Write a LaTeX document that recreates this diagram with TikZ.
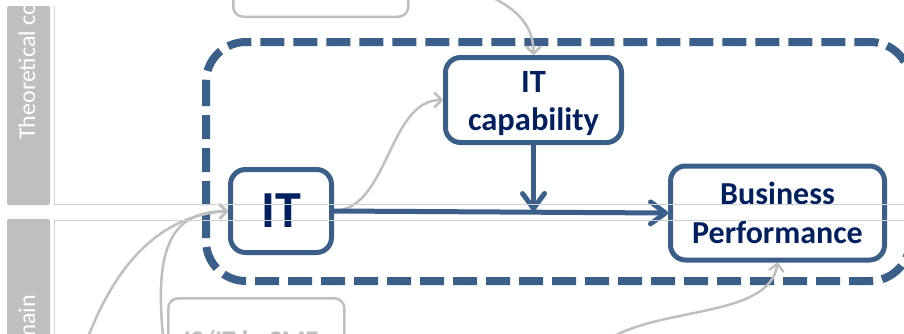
\documentclass[tikz,border=0pt]{standalone}
\usepackage{fontspec}
\setmainfont{Carlito}
\usetikzlibrary{arrows.meta}
\definecolor{boxblue}{RGB}{58,95,139}
\definecolor{navy}{RGB}{0,32,96}
\definecolor{softgray}{RGB}{191,191,191}
\definecolor{laneline}{RGB}{210,210,210}
\begin{document}
\begin{tikzpicture}[x=1pt,y=-1pt,
  blockbox/.style={draw=boxblue, line width=5pt, rounded corners=15pt, inner sep=0pt},
  blocktext/.style={text=navy, align=center, inner sep=0pt},
  flow/.style={draw=boxblue, line width=5pt, line cap=round,
    -{Straight Barb[length=15pt,width=22pt,round]}},
  hint/.style={draw=softgray, line width=2.5pt,
    -{Straight Barb[length=7pt,width=14pt,round]}},
  ghostbox/.style={draw=softgray, line width=2.5pt, rounded corners=10pt},
  scopeframe/.style={draw=boxblue, line width=8pt, rounded corners=40pt, dash pattern=on 24pt off 9pt},
  laneband/.style={fill=softgray, rounded corners=2pt},
  lanetext/.style={text=white, font=\fontsize{24}{28}\selectfont, rotate=90, inner sep=0pt},
  lanerule/.style={draw=laneline, line width=1pt},
]
\useasboundingbox (0,0) rectangle (904,333);
\clip (0,0) rectangle (904,333);

% swim-lane header bands
\fill[laneband] (7,6) rectangle (50,205);
\fill[laneband] (7,219) rectangle (50,360);
\begin{scope}
  \clip (7,6) rectangle (50,205);
  \node[lanetext, anchor=base west] (laneA) at (35,140) {Theoretical co};
\end{scope}
\begin{scope}
  \clip (7,219) rectangle (50,360);
  \node[lanetext, anchor=base east] (laneB) at (35,295) {main};
\end{scope}

% surrounding dashed frame
\draw[scopeframe] (206,42) rectangle (910,281);

% faded context boxes
\node[ghostbox, minimum width=175pt, minimum height=60pt, anchor=south west] (prior) at (232,18) {};
\node[ghostbox, minimum width=176pt, minimum height=80pt, anchor=north west] (sme) at (167,297) {};
\node[text=softgray, font=\bfseries\fontsize{27}{30}\selectfont, anchor=base, inner sep=0pt] (smelabel) at (251,349) {IS/IT in SME};

% main constructs
\node[blockbox, minimum width=101pt, minimum height=83pt] (it) at (281,211) {};
\node[blockbox, minimum width=176pt, minimum height=85pt] (cap) at (533.5,100) {};
\node[blockbox, minimum width=214pt, minimum height=94pt] (bp) at (777.5,213) {};
\node[blocktext, font=\bfseries\fontsize{52}{52}\selectfont] (ittext) at (it.center) {IT};
\node[blocktext, font=\bfseries\fontsize{32.5}{38}\selectfont] (captext) at ([yshift=-4pt]cap.center) {IT\\capability};
\node[blocktext, font=\bfseries\fontsize{32}{39}\selectfont] (bptext) at (bp.center) {Business\\Performance};

% loose ends of the faded links
\coordinate (srcTop) at (470,-12);
\coordinate (srcA) at (85,345);
\coordinate (srcB) at (164,345);
\coordinate (srcC) at (600,345);

% faded links
\draw[hint] (srcTop) .. controls +(40,15) and +(0,-35) .. (cap.north);
\draw[hint] (it.east) .. controls +(55,-2) and +(-55,0) .. (cap.west);
\draw[hint] (srcA) .. controls +(35,-95) and +(-58,4) .. (it.west);
\draw[hint] (srcB) .. controls +(-12,-105) and +(-53,1) .. (it.west);
\draw[hint] (srcC) .. controls +(50,-40) and +(-8,58) .. (bp.south);

% main links
\coordinate (merge) at (cap.south |- it.east);
\draw[flow] (it.east) -- (bp.west);
\draw[flow] (cap.south) -- (merge);

% lane rules
\draw[lanerule] (54,6) -- (54,204) -- (910,204);
\draw[lanerule] (910,220) -- (54,220) -- (54,340);
\end{tikzpicture}
\end{document}
